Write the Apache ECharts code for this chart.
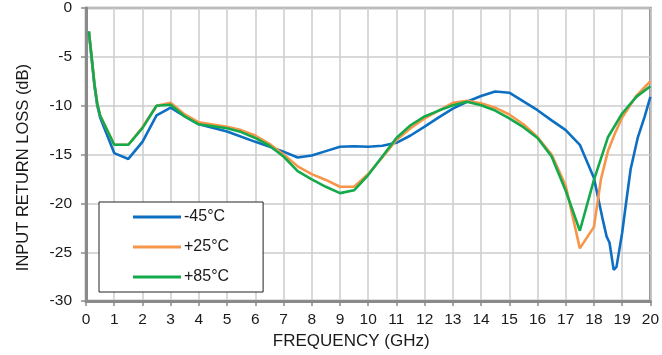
<!DOCTYPE html>
<html>
<head>
<meta charset="utf-8">
<script src="https://cdn.jsdelivr.net/npm/echarts@6/dist/echarts.min.js"></script>
<style>
html,body{margin:0;padding:0;background:#fff;}
#chart{width:662px;height:355px;}
</style>
</head>
<body>
<div id="chart"></div>
<script>
const seriesNames = ['-45°C', '+25°C', '+85°C'];

const freqCold = [0.1,0.2,0.3,0.4,0.5,1.0,1.5,2.0,2.5,3.0,3.5,4.0,5.0,6.0,7.0,7.5,8.0,8.5,9.0,9.5,10.0,10.5,11.0,11.5,12.0,12.5,13.0,13.5,14.0,14.5,15.0,15.5,16.0,16.5,17.0,17.5,18.0,18.3,18.45,18.55,18.7,18.8,19.0,19.15,19.3,19.55,19.8,20.0];
const lossCold = [-2.4,-5.2,-8.0,-10.0,-11.2,-14.85,-15.45,-13.7,-11.0,-10.2,-11.1,-11.9,-12.65,-13.7,-14.7,-15.3,-15.1,-14.65,-14.2,-14.15,-14.2,-14.1,-13.8,-13.05,-12.15,-11.2,-10.3,-9.6,-9.0,-8.55,-8.67,-9.55,-10.46,-11.5,-12.5,-14.0,-17.4,-21.5,-23.4,-24.0,-26.8,-26.5,-23.0,-19.7,-16.5,-13.3,-11.1,-9.1];

const freqRoom = [0.1,0.2,0.3,0.4,0.5,1.0,1.5,2.0,2.5,3.0,3.5,4.0,5.0,5.5,6.0,6.5,7.0,7.5,8.0,8.5,9.0,9.5,10.0,10.5,11.0,11.5,12.0,12.5,13.0,13.5,14.0,14.5,15.0,15.5,16.0,16.5,17.0,17.5,18.0,18.25,18.5,18.75,19.0,19.5,20.0];
const lossRoom = [-2.4,-5.0,-7.8,-9.8,-11.0,-14.0,-14.0,-12.2,-10.0,-9.7,-10.9,-11.7,-12.15,-12.5,-13.05,-13.9,-15.0,-16.2,-17.0,-17.6,-18.3,-18.3,-17.0,-15.3,-13.5,-12.3,-11.3,-10.5,-9.7,-9.5,-9.75,-10.2,-10.9,-11.9,-13.2,-15.0,-18.2,-24.6,-22.4,-17.5,-14.6,-12.8,-11.2,-9.0,-7.5];

const freqHot = [0.1,0.2,0.3,0.4,0.5,1.0,1.5,2.0,2.5,3.0,3.5,4.0,5.0,5.5,6.0,6.5,7.0,7.5,8.0,8.5,9.0,9.5,10.0,10.5,11.0,11.5,12.0,12.5,13.0,13.5,14.0,14.5,15.0,15.5,16.0,16.5,17.0,17.5,18.0,18.5,19.0,19.5,20.0];
const lossHot = [-2.4,-5.0,-7.8,-9.8,-11.0,-14.0,-14.0,-12.3,-10.0,-9.9,-11.1,-11.9,-12.3,-12.7,-13.3,-14.1,-15.2,-16.7,-17.55,-18.3,-18.95,-18.66,-17.1,-15.2,-13.3,-12.0,-11.1,-10.5,-9.95,-9.6,-9.95,-10.5,-11.3,-12.2,-13.3,-15.2,-18.7,-22.8,-17.6,-13.2,-10.8,-9.1,-8.0];

const xTicks = {min: 0, max: 20, interval: 1};
const yTicks = {min: -30, max: 0, interval: 5};

const colors = ['#0C6FC2', '#F7964A', '#14AA4B'];
const FONT = 'Liberation Sans, Arial, sans-serif';

function pairs(xs, ys) { return xs.map((x, i) => [x, ys[i]]); }

const chart = echarts.init(document.getElementById('chart'), null, {renderer: 'canvas'});
chart.setOption({
  animation: false,
  backgroundColor: '#ffffff',
  grid: {
    left: 86, right: 9, top: 8, bottom: 50.5,
    show: true, borderColor: '#8a8a8a', borderWidth: 2.5, backgroundColor: 'transparent'
  },
  legend: {
    orient: 'vertical',
    left: 99, top: 202,
    data: seriesNames,
    backgroundColor: '#ffffff',
    borderColor: '#222',
    borderWidth: 1,
    borderRadius: 0,
    padding: [7, 34, 7, 34],
    itemWidth: 48,
    itemHeight: 14,
    itemGap: 14,
    icon: 'path://M0,6 L48,6 L48,9 L0,9 Z',
    textStyle: {fontFamily: FONT, fontSize: 16, color: '#1a1a1a', padding: [0,0,0,-2]}
  },
  xAxis: {
    type: 'value',
    min: xTicks.min, max: xTicks.max, interval: xTicks.interval,
    name: 'FREQUENCY (GHz)',
    nameLocation: 'middle',
    nameGap: 31,
    nameTextStyle: {fontFamily: FONT, fontSize: 17, color: '#1a1a1a', padding: [0, 34, 0, 0]},
    axisLine: {show: true, onZero: false, lineStyle: {color: '#8a8a8a', width: 3}},
    axisTick: {show: true, length: 5, lineStyle: {color: '#8a8a8a', width: 1.5}},
    axisLabel: {fontFamily: FONT, fontSize: 15.5, color: '#1a1a1a', margin: 11},
    splitLine: {show: true, lineStyle: {color: '#cdcdcd', width: 1.5}}
  },
  yAxis: {
    type: 'value',
    min: yTicks.min, max: yTicks.max, interval: yTicks.interval,
    name: 'INPUT RETURN LOSS (dB)',
    nameLocation: 'middle',
    nameGap: 54,
    nameTextStyle: {fontFamily: FONT, fontSize: 16.5, color: '#1a1a1a', padding: [0, 26, 0, 0]},
    axisLine: {show: true, onZero: false, lineStyle: {color: '#8a8a8a', width: 3}},
    axisTick: {show: true, length: 5, lineStyle: {color: '#8a8a8a', width: 1.5}},
    axisLabel: {fontFamily: FONT, fontSize: 15.5, color: '#1a1a1a', margin: 14},
    splitLine: {show: true, lineStyle: {color: '#cdcdcd', width: 1.5}}
  },
  series: [
    {name: seriesNames[0], type: 'line', data: pairs(freqCold, lossCold), showSymbol: false, symbol: 'none',
     lineStyle: {color: colors[0], width: 2.6}, itemStyle: {color: colors[0]}},
    {name: seriesNames[1], type: 'line', data: pairs(freqRoom, lossRoom), showSymbol: false, symbol: 'none',
     lineStyle: {color: colors[1], width: 2.6}, itemStyle: {color: colors[1]}},
    {name: seriesNames[2], type: 'line', data: pairs(freqHot, lossHot), showSymbol: false, symbol: 'none',
     lineStyle: {color: colors[2], width: 2.6}, itemStyle: {color: colors[2]}}
  ]
});
</script>
</body>
</html>
